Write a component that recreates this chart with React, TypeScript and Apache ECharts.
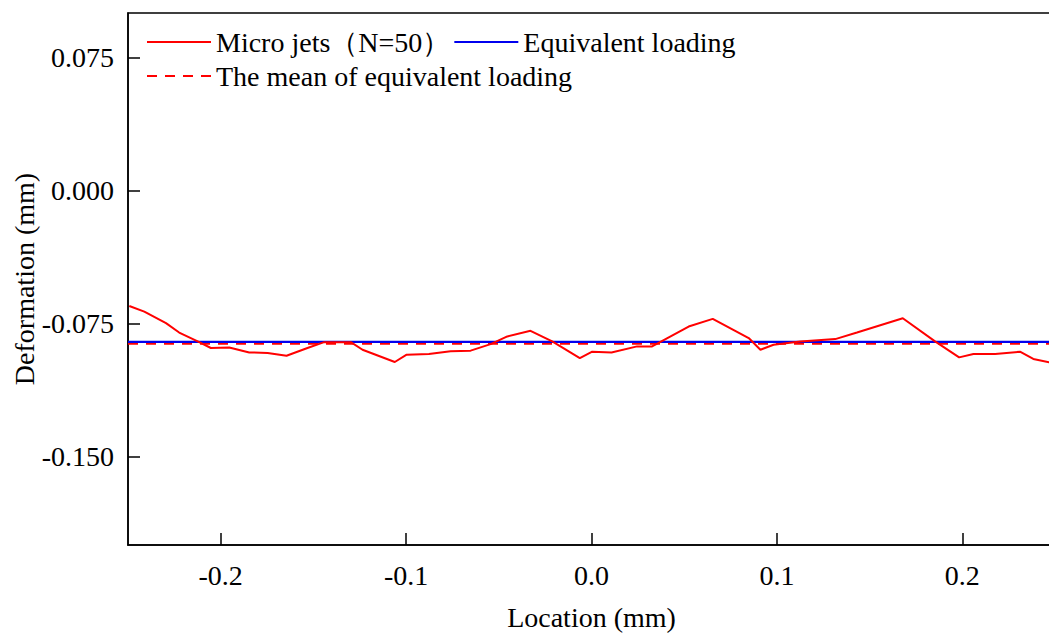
import React, { useEffect, useRef } from "react";
import * as echarts from "echarts";

const microX = [-0.2493, -0.2412, -0.2295, -0.2224, -0.2124, -0.2053, -0.1954, -0.1846, -0.1747, -0.1645, -0.1532, -0.1442, -0.1298, -0.1235, -0.1061, -0.0997, -0.0877, -0.076, -0.0652, -0.0544, -0.0454, -0.0329, -0.0212, -0.0063, 0.0004, 0.0108, 0.0246, 0.0327, 0.0524, 0.0654, 0.0848, 0.0911, 0.0982, 0.1126, 0.1315, 0.1432, 0.1679, 0.1853, 0.1983, 0.206, 0.2177, 0.2311, 0.2383, 0.2468, 0.25];
const microY = [-0.0652, -0.0684, -0.0749, -0.0802, -0.0852, -0.0889, -0.0886, -0.0914, -0.0917, -0.0933, -0.0889, -0.0856, -0.0856, -0.0899, -0.0968, -0.0927, -0.0923, -0.0908, -0.0904, -0.0867, -0.0824, -0.0792, -0.0852, -0.0946, -0.091, -0.0914, -0.088, -0.088, -0.0768, -0.0725, -0.0833, -0.0899, -0.0871, -0.0852, -0.0839, -0.0802, -0.0721, -0.0852, -0.0942, -0.0923, -0.0923, -0.091, -0.0951, -0.097, -0.0972];
const equivX = [-0.25, 0.25];
const equivY = [-0.0855, -0.0855];
const meanY = [-0.0863, -0.0863];
const xTicks = [-0.2, -0.1, 0, 0.1, 0.2];
const yTicks = [-0.15, -0.075, 0, 0.075];

const names = ["Micro jets（N=50）", "Equivalent loading", "The mean of equivalent loading"];
const font = "'Liberation Serif', 'Times New Roman', serif";
const fs = 28;

export default function App() {
  const ref = useRef<HTMLDivElement>(null);
  useEffect(() => {
    if (!ref.current) return;
    const chart = echarts.init(ref.current, null, { renderer: "svg" });
    const pair = (xs: number[], ys: number[]) => xs.map((x, i) => [x, ys[i]]);
    const legendBase = {
      left: 141,
      itemWidth: 64,
      itemHeight: 14,
      itemGap: 3,
      itemStyle: { opacity: 0 },
      textStyle: { fontFamily: font, fontSize: fs, color: "#000" },
    };
    chart.setOption({
      animation: false,
      textStyle: { fontFamily: font },
      grid: {
        left: 128,
        top: 13,
        right: 5,
        bottom: 88,
        containLabel: false,
        outerBoundsMode: "none",
        show: true,
        borderColor: "#000",
        borderWidth: 1.5,
      },
      legend: [
        { ...legendBase, data: [names[0], names[1]], top: 23 },
        { ...legendBase, data: [names[2]], top: 57 },
      ],
      xAxis: {
        type: "value",
        min: -0.25,
        max: 0.25,
        name: "Location (mm)",
        nameLocation: "middle",
        nameGap: 58,
        nameMoveOverlap: false,
        nameTextStyle: { fontFamily: font, fontSize: fs, color: "#000" },
        axisLine: { show: true, onZero: false, lineStyle: { color: "#000", width: 1.5 } },
        axisTick: { show: true, inside: true, length: 12, customValues: xTicks, lineStyle: { color: "#000", width: 1.5 } },
        axisLabel: { customValues: xTicks, margin: 16, fontFamily: font, fontSize: fs, color: "#000", formatter: (v: number) => v.toFixed(1) },
        splitLine: { show: false },
      },
      yAxis: {
        type: "value",
        min: -0.2,
        max: 0.1,
        name: "Deformation (mm)",
        nameLocation: "middle",
        nameGap: 90,
        nameMoveOverlap: false,
        nameTextStyle: { fontFamily: font, fontSize: fs, color: "#000" },
        axisLine: { show: true, onZero: false, lineStyle: { color: "#000", width: 1.5 } },
        axisTick: { show: true, inside: true, length: 12, customValues: yTicks, lineStyle: { color: "#000", width: 1.5 } },
        axisLabel: { customValues: yTicks, margin: 14, fontFamily: font, fontSize: fs, color: "#000", formatter: (v: number) => v.toFixed(3) },
        splitLine: { show: false },
      },
      series: [
        {
          name: names[2],
          type: "line",
          symbol: "none",
          data: pair(equivX, meanY),
          lineStyle: { color: "#ff0000", width: 2.8, type: [10, 8] },
          itemStyle: { color: "#ff0000" },
        },
        {
          name: names[1],
          type: "line",
          symbol: "none",
          data: pair(equivX, equivY),
          lineStyle: { color: "#0000ee", width: 2.2 },
          itemStyle: { color: "#0000ee" },
        },
        {
          name: names[0],
          type: "line",
          symbol: "none",
          data: pair(microX, microY),
          lineStyle: { color: "#ff0000", width: 2 },
          itemStyle: { color: "#ff0000" },
        },
      ],
    });
    return () => chart.dispose();
  }, []);
  return (
    <div style={{ position: "fixed", left: 0, top: 0, width: 1049, height: 633, overflow: "hidden", background: "#fff" }}>
      <div ref={ref} style={{ position: "absolute", left: 0, top: 0, width: 1060, height: 633 }} />
    </div>
  );
}
